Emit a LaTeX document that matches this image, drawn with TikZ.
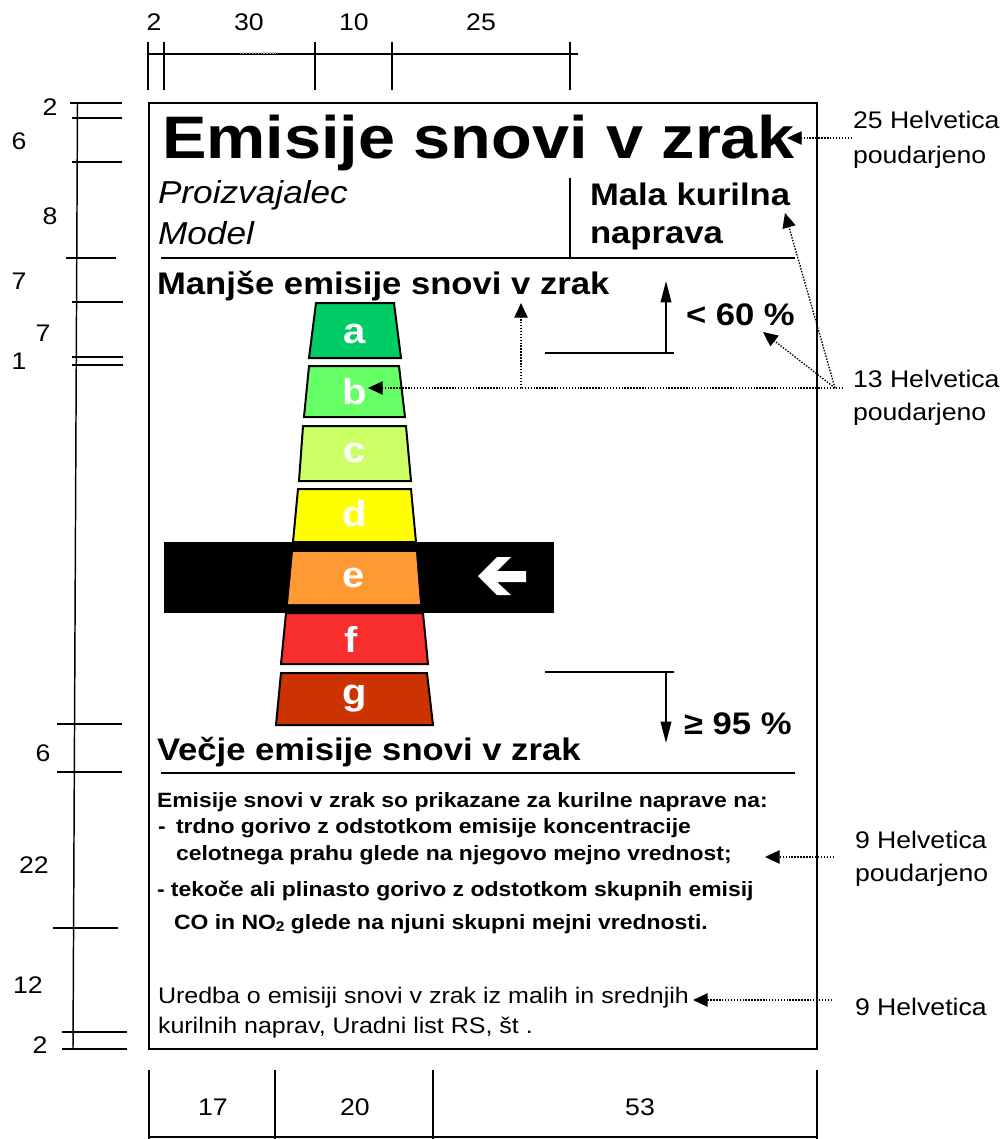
\documentclass[tikz,border=0pt]{standalone}
\usepackage{fontspec}
\setmainfont[FakeStretch=1.11]{Liberation Sans}
\usetikzlibrary{arrows.meta}
\definecolor{cA}{RGB}{0,204,102}
\definecolor{cB}{RGB}{102,255,102}
\definecolor{cC}{RGB}{204,255,102}
\definecolor{cD}{RGB}{255,255,0}
\definecolor{cE}{RGB}{255,153,51}
\definecolor{cF}{RGB}{248,45,45}
\definecolor{cG}{RGB}{204,51,0}
\begin{document}
\begin{tikzpicture}[x=0.75pt,y=-0.75pt,
  every node/.style={inner sep=0pt,outer sep=0pt},
  ruler/.style={line width=1.1pt},
  frame/.style={line width=2.2pt},
  sepline/.style={line width=1.4pt},
  thinline/.style={line width=1.1pt},
  bar/.style={draw=black,line width=1.5pt},
  dimlbl/.style={font=\fontsize{18}{22}\selectfont},
  note/.style={anchor=base west,font=\fontsize{18}{22}\selectfont},
  big/.style={anchor=base west,font=\fontsize{23.4}{28}\selectfont\bfseries},
  ital/.style={anchor=base west,font=\fontsize{23.8}{29}\selectfont\itshape},
  para/.style={anchor=base west,font=\fontsize{15.5}{19}\selectfont\bfseries},
  reg/.style={anchor=base west,font=\fontsize{16.9}{20}\selectfont},
  letter/.style={text=white,font=\fontsize{27}{32}\selectfont\bfseries},
  dotline/.style={dash pattern=on 1.1pt off 1.1pt,line width=1pt},
  dotarrow/.style={dotline,-{Triangle[length=11pt,width=10pt]}},
  solidarrow/.style={thinline,-{Triangle[length=16pt,width=8pt]}}
]
\useasboundingbox (0,0) rectangle (1003,1139);

% ---------- top ruler ----------
\draw[ruler] (148,54) -- (578,54);
\foreach \xx in {148,164,315,392,570} \draw[ruler] (\xx,42) -- (\xx,90);
\draw[gray!60,dotline] (240,53) -- (276,53);
\node[dimlbl] (t1) at (154,22) {2};
\node[dimlbl] (t2) at (249,22) {30};
\node[dimlbl] (t3) at (354,22) {10};
\node[dimlbl] (t4) at (481,22) {25};

% ---------- left ruler ----------
\draw[ruler] (77.5,103) -- (73,1049);
\foreach \yy/\xa/\xb in {103/70/122,118/72/122,162/72/122,258/66/116,302/72/123,357/72/123,365/72/123,724/57/122,772/57/122,928/53/118,1032/62/127,1049/62/127}
  \draw[ruler] (\xa,\yy) -- (\xb,\yy);
\node[dimlbl] (l1) at (50,107) {2};
\node[dimlbl] (l2) at (19,141) {6};
\node[dimlbl] (l3) at (50,216) {8};
\node[dimlbl] (l4) at (19,281) {7};
\node[dimlbl] (l5) at (43,333) {7};
\node[dimlbl] (l6) at (19,361) {1};
\node[dimlbl] (l7) at (43,753) {6};
\node[dimlbl] (l8) at (34,865) {22};
\node[dimlbl] (l9) at (28,985) {12};
\node[dimlbl] (l10) at (40,1045) {2};

% ---------- bottom ruler ----------
\foreach \xx in {149,275,433,817} \draw[ruler] (\xx,1070) -- (\xx,1139);
\draw[ruler] (149,1137) -- (817,1137);
\node[dimlbl] (b1) at (213,1107) {17};
\node[dimlbl] (b2) at (355,1107) {20};
\node[dimlbl] (b3) at (640,1107) {53};

% ---------- label frame ----------
\draw[frame] (149,103) rectangle (817,1049);

\node[anchor=base west,font=\fontsize{45}{54}\selectfont\bfseries] (title) at (162,158) {Emisije snovi v zrak};
\node[ital] (proiz) at (158,203) {Proizvajalec};
\node[ital] (model) at (158,244) {Model};
\node[big] (mala) at (590,205) {Mala kurilna};
\node[big] (naprava) at (590,243) {naprava};
\draw[sepline] (570,178) -- (570,258);
\draw[sepline] (161,258) -- (795,258);

\node[big] (manj) at (157,294) {Manjše emisije snovi v zrak};
\node[big] (vecj) at (157,760) {Večje emisije snovi v zrak};
\draw[sepline] (161,773) -- (795,773);

% ---------- bars ----------
\fill[black] (164,542) rectangle (554,613);
\filldraw[bar,fill=cA] (316,303) -- (394,303) -- (401,358) -- (309,358) -- cycle;
\filldraw[bar,fill=cB] (309,366) -- (399,366) -- (405,417) -- (304,417) -- cycle;
\filldraw[bar,fill=cC] (303,426) -- (406,426) -- (411,481) -- (299,481) -- cycle;
\filldraw[bar,fill=cD] (298,489) -- (411,489) -- (416,542) -- (293,542) -- cycle;
\fill[cE] (293,552) -- (416,552) -- (420,604) -- (288,604) -- cycle;
\filldraw[bar,fill=cF] (286,613) -- (423,613) -- (428,664) -- (281,664) -- cycle;
\filldraw[bar,fill=cG] (281,673) -- (427,673) -- (433,725) -- (276,725) -- cycle;
\node[letter] (la) at (355,334) {a};
\node[letter] (lb) at (355,392) {b};
\node[letter] (lc) at (355,453) {c};
\node[letter] (ld) at (355,514) {d};
\node[letter] (le) at (354,578) {e};
\node[letter] (lf) at (351,639) {f};
\node[letter] (lg) at (355,699) {g};
\fill[white] (478,576) -- (497,557) -- (511,557) -- (497,571) -- (526,571) -- (526,582) -- (497,582) -- (511,595) -- (497,595) -- cycle;

% ---------- percentage arrows ----------
\node[big] (p60) at (686,325) {< 60 \%};
\node[big] (p95) at (684,734) {≥ 95 \%};
\coordinate (upfoot) at (666,353);
\coordinate (uptip) at (666,281);
\coordinate (dnfoot) at (666,672);
\coordinate (dntip) at (666,743);
\draw[thinline] (545,353) -- (674,353);
\draw[thinline] (545,672) -- (674,672);
\draw[solidarrow] (upfoot) -- (uptip);
\draw[solidarrow] (dnfoot) -- (dntip);

% ---------- bottom texts ----------
\node[para] (e1) at (157,807) {Emisije snovi v zrak so prikazane za kurilne naprave na:};
\node[para] (e2a) at (158,833) {-};
\node[para] (e2) at (176,833) {trdno gorivo z odstotkom emisije koncentracije};
\node[para] (e3) at (176,860) {celotnega prahu glede na njegovo mejno vrednost;};
\node[para] (e4) at (157,896) {- tekoče ali plinasto gorivo z odstotkom skupnih emisij};
\node[para] (e5) at (174,929) {CO in NO\raisebox{-0.2ex}{\fontsize{10.5}{12}\selectfont 2} glede na njuni skupni mejni vrednosti.};
\node[reg] (u1) at (158,1003) {Uredba o emisiji snovi v zrak iz malih in srednjih};
\node[reg] (u2) at (158,1033) {kurilnih naprav, Uradni list RS, št .};

% ---------- annotations ----------
\node[note] (n1) at (853,128) {25 Helvetica};
\node[note] (n1b) at (853,163) {poudarjeno};
\node[note] (n2) at (853,387) {13 Helvetica};
\node[note] (n2b) at (853,420) {poudarjeno};
\node[note] (n3) at (855,848) {9 Helvetica};
\node[note] (n3b) at (855,881) {poudarjeno};
\node[note] (n4) at (855,1015) {9 Helvetica};

\coordinate (a1s) at (852,138);
\coordinate (a1t) at (787,138);
\coordinate (hub) at (835,388);
\coordinate (hubr) at (843,388);
\coordinate (malat) at (785,213);
\coordinate (p60t) at (763,332);
\coordinate (branch) at (521,388);
\coordinate (vt) at (521,303);
\coordinate (bt) at (368,388);
\coordinate (a3s) at (834,857);
\coordinate (a3t) at (765,857);
\coordinate (a4s) at (832,1000);
\coordinate (a4t) at (693,1000);

\draw[dotarrow] (a1s) -- (a1t);
\draw[dotarrow] (hub) -- (malat);
\draw[dotarrow] (hub) -- (p60t);
\draw[dotline] (hubr) -- (branch);
\draw[dotarrow] (branch) -- (bt);
\draw[dotarrow] (branch) -- (vt);
\draw[dotarrow] (a3s) -- (a3t);
\draw[dotarrow] (a4s) -- (a4t);
\end{tikzpicture}
\end{document}
